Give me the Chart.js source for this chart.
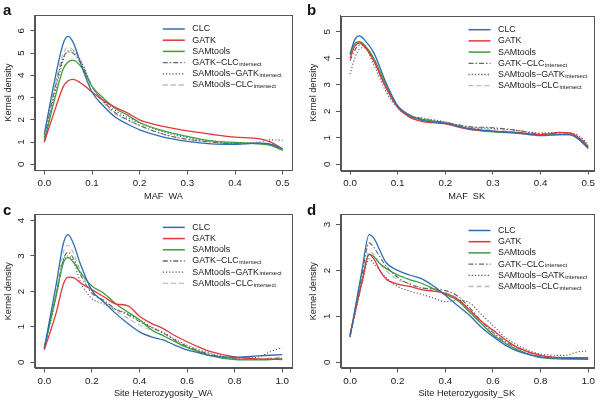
<!DOCTYPE html>
<html>
<head>
<meta charset="utf-8">
<script src="https://cdn.jsdelivr.net/npm/chart.js@4.4.0/dist/chart.umd.min.js"></script>
<style>
  html, body { margin: 0; padding: 0; background: #fff; }
  #wrap { position: relative; width: 600px; height: 401px; overflow: hidden; background: #fff; }
  canvas { position: absolute; }
</style>
</head>
<body>
<div id="wrap">
  <canvas id="pa" width="300" height="200" style="left:0;top:0"></canvas>
  <canvas id="pb" width="300" height="200" style="left:300px;top:0"></canvas>
  <canvas id="pc" width="300" height="201" style="left:0;top:200px"></canvas>
  <canvas id="pd" width="300" height="201" style="left:300px;top:200px"></canvas>
</div>
<script>
const seriesNames = ['CLC', 'GATK', 'SAMtools', 'GATK\u2212CLC', 'SAMtools\u2212GATK', 'SAMtools\u2212CLC'];
const seriesSubs = ['', '', '', 'intersect', 'intersect', 'intersect'];

// panel a: MAF_WA
const xA = [0, 0.02, 0.04, 0.05, 0.06, 0.08, 0.1, 0.125, 0.15, 0.175, 0.2, 0.25, 0.3, 0.35, 0.4, 0.45, 0.475, 0.5];
const clcA  = [1.35, 3.6, 5.45, 5.75, 5.5, 4.3, 3.25, 2.6, 2.1, 1.8, 1.55, 1.22, 1.03, 0.92, 0.9, 0.95, 0.9, 0.7];
const gatkA = [1.0, 2.3, 3.5, 3.75, 3.82, 3.6, 3.25, 2.85, 2.55, 2.3, 2.0, 1.7, 1.5, 1.35, 1.22, 1.15, 1.0, 0.68];
const samA  = [1.0, 2.8, 4.3, 4.6, 4.68, 4.3, 3.5, 2.95, 2.5, 2.2, 1.88, 1.5, 1.25, 1.05, 0.98, 0.92, 0.85, 0.62];
const gcA   = [1.15, 3.2, 4.8, 5.05, 5.0, 4.4, 3.5, 2.8, 2.3, 2.0, 1.75, 1.35, 1.12, 1.0, 0.92, 0.95, 0.9, 0.68];
const sgA   = [1.05, 3.0, 4.7, 5.1, 5.1, 4.5, 3.5, 2.85, 2.4, 2.1, 1.85, 1.45, 1.2, 1.05, 0.95, 1.0, 1.1, 1.08];
const scA   = [1.2, 3.3, 5.0, 5.25, 5.15, 4.5, 3.5, 2.75, 2.25, 1.98, 1.72, 1.35, 1.12, 1.0, 0.92, 0.92, 0.88, 0.66];

// panel b: MAF_SK
const xB = [0, 0.01, 0.02, 0.03, 0.05, 0.075, 0.1, 0.125, 0.15, 0.2, 0.25, 0.3, 0.35, 0.4, 0.44, 0.46, 0.48, 0.5];
const clcB  = [4.15, 4.7, 4.84, 4.7, 4.2, 3.1, 2.2, 1.86, 1.67, 1.55, 1.35, 1.25, 1.18, 1.08, 1.12, 1.12, 0.95, 0.6];
const gatkB = [4.0, 4.45, 4.58, 4.45, 3.9, 2.9, 2.15, 1.78, 1.62, 1.52, 1.32, 1.25, 1.2, 1.12, 1.2, 1.18, 1.0, 0.65];
const samB  = [4.15, 4.55, 4.62, 4.5, 4.0, 3.0, 2.18, 1.8, 1.7, 1.55, 1.33, 1.22, 1.18, 1.1, 1.12, 1.12, 0.95, 0.6];
const gcB   = [3.9, 4.3, 4.5, 4.45, 3.9, 2.9, 2.2, 1.85, 1.72, 1.58, 1.42, 1.38, 1.28, 1.15, 1.15, 1.15, 1.02, 0.7];
const sgB   = [3.4, 4.0, 4.35, 4.4, 3.75, 2.75, 2.12, 1.82, 1.75, 1.6, 1.4, 1.35, 1.28, 1.18, 1.2, 1.2, 1.08, 0.75];
const scB   = [4.1, 4.5, 4.55, 4.45, 3.95, 2.95, 2.2, 1.82, 1.7, 1.57, 1.38, 1.3, 1.22, 1.12, 1.15, 1.15, 1.0, 0.65];

// panels c and d: site heterozygosity
const xCD = [0, 0.05, 0.08, 0.1, 0.125, 0.15, 0.2, 0.25, 0.3, 0.35, 0.4, 0.45, 0.5, 0.55, 0.6, 0.65, 0.7, 0.8, 0.9, 0.95, 1.0];
const clcC  = [0.4, 2.2, 3.35, 3.6, 3.3, 2.8, 2.03, 1.7, 1.38, 1.1, 0.86, 0.72, 0.63, 0.48, 0.35, 0.27, 0.19, 0.14, 0.18, 0.2, 0.22];
const gatkC = [0.35, 1.4, 2.2, 2.4, 2.38, 2.25, 2.05, 1.85, 1.65, 1.6, 1.3, 1.1, 0.95, 0.75, 0.58, 0.43, 0.3, 0.15, 0.1, 0.09, 0.08];
const samC  = [0.4, 1.9, 2.8, 2.95, 2.8, 2.55, 2.15, 1.95, 1.65, 1.42, 1.2, 0.92, 0.75, 0.58, 0.42, 0.3, 0.18, 0.08, 0.07, 0.08, 0.1];
const gcC   = [0.38, 1.9, 2.9, 3.1, 2.9, 2.5, 1.95, 1.75, 1.5, 1.35, 1.15, 0.98, 0.82, 0.62, 0.45, 0.32, 0.22, 0.1, 0.08, 0.1, 0.12];
const sgC   = [0.38, 1.85, 2.85, 3.0, 2.8, 2.3, 1.8, 1.65, 1.5, 1.38, 1.2, 1.0, 0.85, 0.65, 0.48, 0.35, 0.25, 0.12, 0.15, 0.3, 0.42];
const scC   = [0.4, 2.0, 3.1, 3.3, 3.05, 2.6, 1.98, 1.72, 1.45, 1.25, 1.05, 0.9, 0.75, 0.58, 0.42, 0.3, 0.2, 0.1, 0.1, 0.12, 0.15];

const clcD  = [0.55, 2.0, 2.78, 2.7, 2.44, 2.18, 2.0, 1.9, 1.82, 1.66, 1.46, 1.24, 1.03, 0.77, 0.56, 0.38, 0.25, 0.12, 0.09, 0.08, 0.07];
const gatkD = [0.6, 1.75, 2.35, 2.25, 2.0, 1.82, 1.7, 1.65, 1.58, 1.55, 1.5, 1.38, 1.15, 0.9, 0.7, 0.5, 0.33, 0.15, 0.1, 0.1, 0.1];
const samD  = [0.6, 1.75, 2.35, 2.3, 2.15, 2.05, 1.9, 1.8, 1.72, 1.6, 1.48, 1.35, 1.1, 0.85, 0.6, 0.42, 0.28, 0.1, 0.07, 0.07, 0.07];
const gcD   = [0.58, 1.9, 2.6, 2.5, 2.3, 2.1, 1.85, 1.7, 1.62, 1.6, 1.56, 1.45, 1.2, 0.9, 0.65, 0.46, 0.32, 0.15, 0.1, 0.09, 0.08];
const sgD   = [0.55, 1.7, 2.25, 2.15, 2.0, 1.85, 1.65, 1.55, 1.48, 1.4, 1.32, 1.35, 1.3, 1.05, 0.8, 0.55, 0.38, 0.18, 0.15, 0.22, 0.25];
const scD   = [0.58, 1.8, 2.4, 2.35, 2.15, 2.0, 1.8, 1.72, 1.62, 1.58, 1.52, 1.4, 1.15, 0.85, 0.62, 0.43, 0.28, 0.12, 0.08, 0.08, 0.08];

const mafTicks = [0, 0.1, 0.2, 0.3, 0.4, 0.5];
const hetTicks = [0, 0.2, 0.4, 0.6, 0.8, 1.0];
const yTicksA = [0, 1, 2, 3, 4, 5, 6];
const yTicksB = [0, 1, 2, 3, 4, 5];
const yTicksC = [0, 1, 2, 3, 4];
const yTicksD = [0, 1, 2, 3];

const lineColors = ['#2f6db3', '#e2363b', '#3b9f3b', '#666666', '#555555', '#bdbdbd'];
const lineDashes = [[], [], [], [5, 2, 1.5, 2], [1.2, 2], [5, 3]];
const lineWidths = [1.3, 1.3, 1.3, 1.1, 1.1, 1.1];

const FONT = "'Liberation Sans', Arial, sans-serif";
const TEXT = '#1a1a1a';

const panels = [
  { id: 'pa', letter: 'a', letterX: 3, w: 300, h: 200, box: [34.8, 15.2, 292.2, 170],
    xMin: -0.02, xMax: 0.52, yMin: -0.256, yMax: 6.70, xTicks: mafTicks, yTicks: yTicksA,
    xTitle: 'MAF_WA', xTitlePad: -2.1, yTitlePad: 2.6, legendTop: 13.8,
    xs: xA, ys: [clcA, gatkA, samA, gcA, sgA, scA] },
  { id: 'pb', letter: 'b', letterX: 7, w: 300, h: 200, box: [40.5, 15.5, 293, 170],
    xMin: -0.02, xMax: 0.51, yMin: -0.215, yMax: 5.61, xTicks: mafTicks, yTicks: yTicksB,
    xTitle: 'MAF_SK', xTitlePad: -2.1, yTitlePad: 7.6, legendTop: 14.2,
    xs: xB, ys: [clcB, gatkB, samB, gcB, sgB, scB] },
  { id: 'pc', letter: 'c', letterX: 3, w: 300, h: 201, box: [34.8, 14, 291.7, 168],
    xMin: -0.04, xMax: 1.04, yMin: -0.16, yMax: 4.169, xTicks: hetTicks, yTicks: yTicksC,
    xTitle: 'Site Heterozygosity_WA', xTitlePad: 2.3, yTitlePad: 2.6, legendTop: 12.9,
    xs: xCD, ys: [clcC, gatkC, samC, gcC, sgC, scC] },
  { id: 'pd', letter: 'd', letterX: 7, w: 300, h: 201, box: [40.5, 14, 293, 168],
    xMin: -0.04, xMax: 1.02, yMin: -0.124, yMax: 3.217, xTicks: hetTicks, yTicks: yTicksD,
    xTitle: 'Site Heterozygosity_SK', xTitlePad: 2.3, yTitlePad: 7.6, legendTop: 16,
    xs: xCD, ys: [clcD, gatkD, samD, gcD, sgD, scD] }
];

// box, panel letter and legend with subscripts
const decor = {
  id: 'decor',
  afterDraw(chart, args, opts) {
    const ctx = chart.ctx;
    const ca = chart.chartArea;
    ctx.save();
    ctx.strokeStyle = '#555';
    ctx.lineWidth = 1;
    ctx.strokeRect(Math.round(ca.left) + 0.5, Math.round(ca.top) + 0.5,
      Math.round(ca.right - ca.left), Math.round(ca.bottom - ca.top));

    ctx.fillStyle = '#111';
    ctx.font = 'bold 15px ' + FONT;
    ctx.textBaseline = 'alphabetic';
    ctx.fillText(opts.letter, opts.letterX, 14.5);

    const x0 = ca.left + 128;
    const x1 = x0 + 22;
    const tx = x1 + 7.5;
    seriesNames.forEach((name, i) => {
      const y = ca.top + opts.legendTop + i * 11.2;
      ctx.beginPath();
      ctx.setLineDash(lineDashes[i]);
      ctx.strokeStyle = lineColors[i];
      ctx.lineWidth = lineWidths[i] + 0.2;
      ctx.moveTo(x0, y);
      ctx.lineTo(x1, y);
      ctx.stroke();
      ctx.setLineDash([]);
      ctx.fillStyle = TEXT;
      ctx.textBaseline = 'middle';
      ctx.font = '8.9px ' + FONT;
      ctx.fillText(name, tx, y);
      if (seriesSubs[i]) {
        const w = ctx.measureText(name).width;
        ctx.font = '5.9px ' + FONT;
        ctx.fillText(seriesSubs[i], tx + w + 0.5, y + 1.6);
      }
    });
    ctx.restore();
  }
};

function makePanel(p) {
  const datasets = p.ys.map((ys, i) => ({
    label: seriesNames[i] + seriesSubs[i],
    data: p.xs.map((x, j) => ({ x: x, y: ys[j] })),
    borderColor: lineColors[i],
    borderWidth: lineWidths[i],
    borderDash: lineDashes[i],
    pointRadius: 0,
    fill: false,
    cubicInterpolationMode: 'monotone'
  }));

  return new Chart(document.getElementById(p.id), {
    type: 'line',
    data: { datasets },
    plugins: [decor],
    options: {
      responsive: false,
      animation: false,
      events: [],
      layout: { padding: { left: 0, top: p.box[1], right: p.w - p.box[2], bottom: 0 } },
      plugins: {
        legend: { display: false },
        tooltip: { enabled: false },
        decor: { letter: p.letter, letterX: p.letterX, legendTop: p.legendTop }
      },
      scales: {
        x: {
          type: 'linear',
          min: p.xMin,
          max: p.xMax,
          afterBuildTicks: s => { s.ticks = p.xTicks.map(v => ({ value: v })); },
          afterFit: s => { s.height = p.h - p.box[3]; },
          grid: { drawOnChartArea: false, drawTicks: true, tickLength: 4.5, color: '#555' },
          border: { display: true, color: '#555' },
          ticks: {
            font: { family: FONT, size: 9.8 },
            color: TEXT,
            padding: 3,
            maxRotation: 0,
            autoSkip: false,
            callback: v => v.toFixed(1)
          },
          title: {
            display: true,
            text: p.xTitle,
            color: TEXT,
            font: { family: FONT, size: 9.2 },
            padding: { top: 0, bottom: p.xTitlePad }
          }
        },
        y: {
          type: 'linear',
          min: p.yMin,
          max: p.yMax,
          afterBuildTicks: s => { s.ticks = p.yTicks.map(v => ({ value: v })); },
          afterFit: s => { s.width = p.box[0]; },
          grid: { drawOnChartArea: false, drawTicks: true, tickLength: 4.5, color: '#555' },
          border: { display: true, color: '#555' },
          ticks: {
            font: { family: FONT, size: 9.8 },
            color: TEXT,
            padding: 8.6,
            minRotation: 90,
            maxRotation: 90,
            labelOffset: -2.7,
            autoSkip: false,
            callback: v => String(v)
          },
          title: {
            display: true,
            text: 'Kernel density',
            color: TEXT,
            font: { family: FONT, size: 9.2 },
            padding: { top: p.yTitlePad, bottom: 0 }
          }
        }
      }
    }
  });
}

panels.forEach(makePanel);
</script>
</body>
</html>
